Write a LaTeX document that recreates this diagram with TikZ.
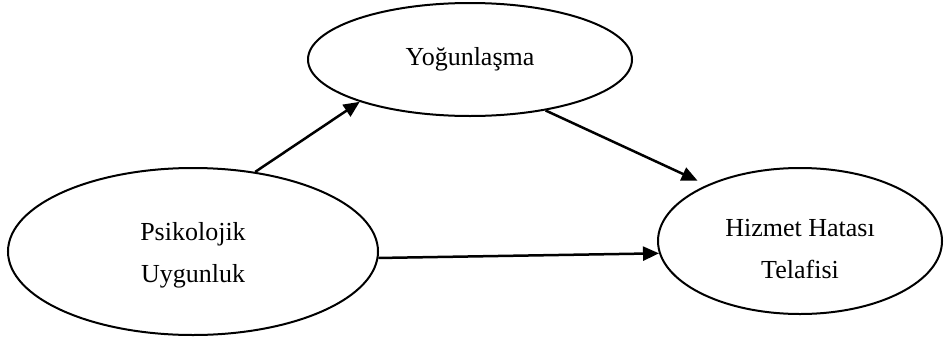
\documentclass[tikz,border=0pt]{standalone}
\usepackage{fontspec}
\setmainfont{Liberation Serif}
\usetikzlibrary{shapes.geometric,arrows.meta}

\begin{document}
\begin{tikzpicture}[x=1pt,y=-1pt,>={Triangle[length=16pt,width=14pt]},
	factor/.style={ellipse,draw,line width=2pt,align=center,
		font=\fontsize{26}{42}\selectfont}]
	\useasboundingbox (0,0) rectangle (944,343);
	\node[factor,minimum width=324pt,minimum height=113pt]
		  (Yog) at (470,59.5) {Yoğunlaşma};
	\node[factor,minimum width=370pt,minimum height=167pt,
		  text height=61pt,text depth=0pt]
		  (Psi) at (193,251.5) {Psikolojik\\Uygunluk};
	\node[factor,minimum width=284pt,minimum height=146pt,
		  text height=74pt,text depth=0pt]
		  (Hiz) at (800,241) {Hizmet Hatası\\Telafisi};

	\draw[->,line width=2.5pt]  (Psi.52) -- (Yog.201);
	\draw[->,line width=2.5pt,shorten >=10pt]  (Yog.-34.4) -- (Hiz.149.6);
	\draw[->,line width=2.5pt]  (Psi.-2.6) -- (Hiz.185.6);
\end{tikzpicture}
\end{document}
